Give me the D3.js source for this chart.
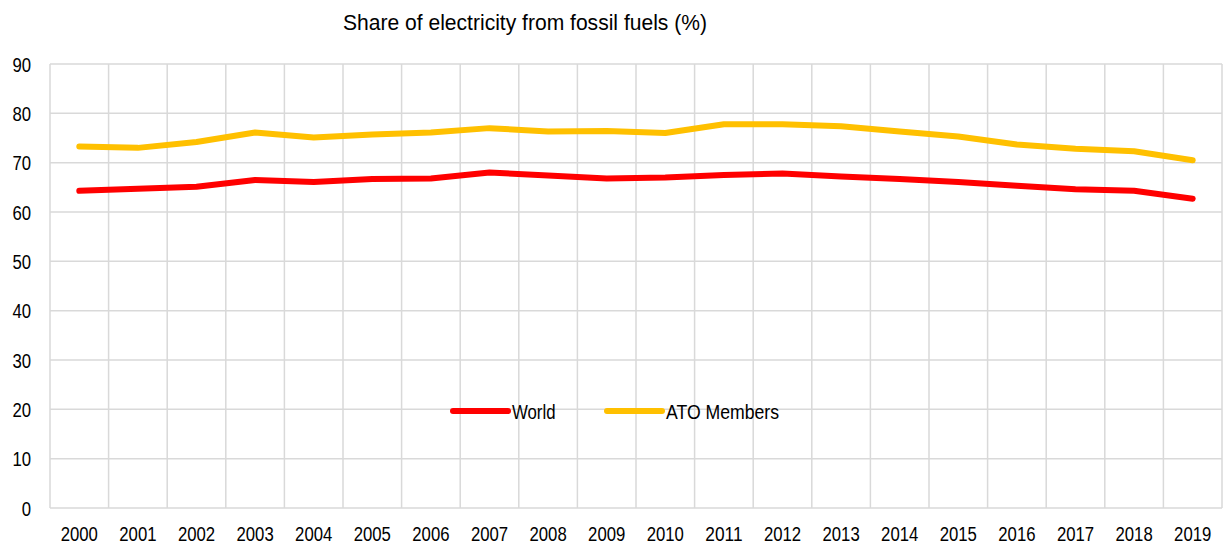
<!DOCTYPE html>
<html>
<head>
<meta charset="utf-8">
<script src="https://cdn.jsdelivr.net/npm/d3@7"></script>
<style>
  html, body { margin: 0; padding: 0; background: #fff; }
  svg { display: block; font-family: "Liberation Sans", Arial, sans-serif; }
</style>
</head>
<body>
<svg id="chart" width="1226" height="547"></svg>
<script>
// Years on the category axis
const years = ["2000","2001","2002","2003","2004","2005","2006","2007","2008","2009",
               "2010","2011","2012","2013","2014","2015","2016","2017","2018","2019"];
// Share of electricity generated from fossil fuels, percent
const worldValues = [64.3,64.7,65.1,66.5,66.1,66.7,66.8,68.0,67.4,66.8,
                     67.0,67.5,67.8,67.2,66.7,66.1,65.3,64.6,64.3,62.7];
const atoValues   = [73.3,73.0,74.2,76.1,75.1,75.7,76.1,77.0,76.3,76.4,
                     76.0,77.8,77.8,77.4,76.3,75.3,73.7,72.8,72.3,70.5];
const yTicks = [0,10,20,30,40,50,60,70,80,90];
const seriesNames = ["World", "ATO Members"];
const seriesColors = ["#ff0000", "#ffc000"];

const svg = d3.select("#chart");
const plotLeft = 50, plotRight = 1222, plotTop = 64, plotBottom = 508;
const fontSize = 20;
const digitW = 9.3;   // condensed glyph advance for numerals

const x = d3.scaleBand().domain(years).range([plotLeft, plotRight]);
const y = d3.scaleLinear().domain([0, 90]).range([plotBottom, plotTop]);

const grid = "#d9d9d9";

// Horizontal gridlines
svg.append("g").selectAll("line").data(yTicks).join("line")
  .attr("x1", plotLeft).attr("x2", plotRight)
  .attr("y1", d => y(d)).attr("y2", d => y(d))
  .attr("stroke", grid).attr("stroke-width", 1.5);

// Vertical gridlines at category boundaries
const bounds = years.map(d => x(d)).concat([plotRight]);
svg.append("g").selectAll("line").data(bounds).join("line")
  .attr("x1", d => d).attr("x2", d => d)
  .attr("y1", plotTop).attr("y2", plotBottom)
  .attr("stroke", grid).attr("stroke-width", 1.5);

// Y axis labels
const yAxis = d3.axisLeft(y).tickValues(yTicks).tickSize(0).tickPadding(0);
svg.append("g").attr("transform", `translate(31,0)`).call(yAxis)
  .call(g => g.select(".domain").remove())
  .selectAll("text")
  .attr("font-size", fontSize).attr("fill", "#000")
  .attr("font-family", "Liberation Sans, Arial, sans-serif")
  .attr("dy", "0.36em")
  .attr("textLength", d => String(d).length * digitW)
  .attr("lengthAdjust", "spacingAndGlyphs");

// X axis labels
const xAxis = d3.axisBottom(x).tickSize(0).tickPadding(0);
svg.append("g").attr("transform", `translate(0,541)`).call(xAxis)
  .call(g => g.select(".domain").remove())
  .selectAll("text")
  .attr("font-size", fontSize).attr("fill", "#000")
  .attr("font-family", "Liberation Sans, Arial, sans-serif")
  .attr("dy", 0).attr("y", 0)
  .attr("textLength", d => d.length * digitW)
  .attr("lengthAdjust", "spacingAndGlyphs");

// Series lines
const line = d3.line()
  .x((d, i) => x(years[i]) + x.bandwidth() / 2)
  .y(d => y(d));

[worldValues, atoValues].forEach((vals, k) => {
  svg.append("path").datum(vals)
    .attr("d", line)
    .attr("fill", "none")
    .attr("stroke", seriesColors[k])
    .attr("stroke-width", 6)
    .attr("stroke-linecap", "round")
    .attr("stroke-linejoin", "round");
});

// Title
svg.append("text")
  .attr("x", 343).attr("y", 30)
  .attr("font-size", 21.5)
  .attr("fill", "#000")
  .attr("textLength", 364)
  .attr("lengthAdjust", "spacingAndGlyphs")
  .text("Share of electricity from fossil fuels (%)");

// Legend
const legendX = [453, 607];
const legendTextW = [43.5, 113];
seriesNames.forEach((name, k) => {
  const g = svg.append("g");
  g.append("line")
    .attr("x1", legendX[k]).attr("x2", legendX[k] + 55)
    .attr("y1", 411).attr("y2", 411)
    .attr("stroke", seriesColors[k]).attr("stroke-width", 6)
    .attr("stroke-linecap", "round");
  g.append("text")
    .attr("x", legendX[k] + 59).attr("y", 418.5)
    .attr("font-size", fontSize).attr("fill", "#000")
    .attr("textLength", legendTextW[k])
    .attr("lengthAdjust", "spacingAndGlyphs")
    .text(name);
});
</script>
</body>
</html>
